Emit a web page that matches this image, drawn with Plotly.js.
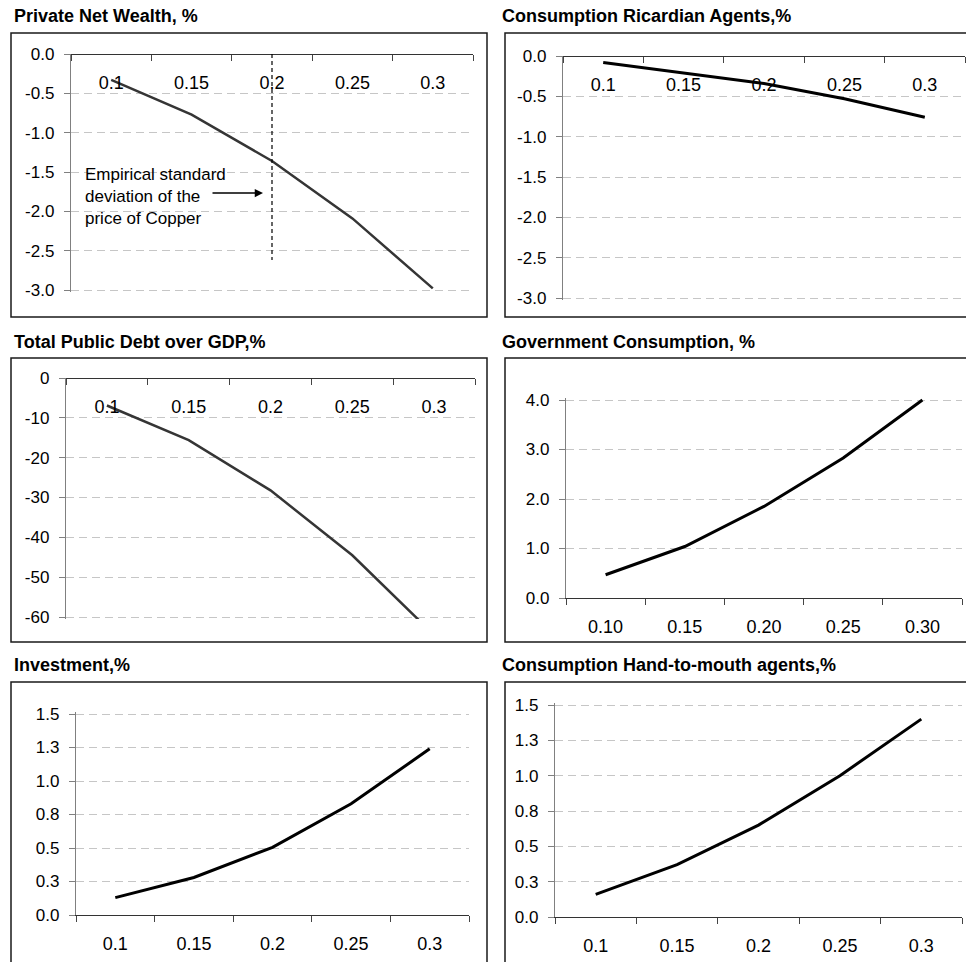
<!DOCTYPE html>
<html>
<head>
<meta charset="utf-8">
<script src="https://cdn.plot.ly/plotly-3.0.1.min.js"></script>
<style>
  html, body { margin: 0; padding: 0; background: #fff; }
  #chart { width: 966px; height: 962px; }
</style>
</head>
<body>
<div id="chart"></div>
<script>
// ---------------- data ----------------
const sigma = ["0.1", "0.15", "0.2", "0.25", "0.3"];
const sigmaGov = ["0.10", "0.15", "0.20", "0.25", "0.30"];

const privateNetWealth = [-0.33, -0.77, -1.36, -2.09, -2.98];
const consRicardian = [-0.08, -0.21, -0.34, -0.53, -0.76];
const publicDebt = [-6.9, -15.6, -28.2, -44.5, -64.5];
const govConsumption = [0.47, 1.04, 1.85, 2.83, 4.0];
const investment = [0.13, 0.28, 0.505, 0.83, 1.24];
const consHandToMouth = [0.16, 0.37, 0.65, 1.0, 1.40];

const titles = [
  "Private Net Wealth, %",
  "Consumption Ricardian Agents,%",
  "Total Public Debt over GDP,%",
  "Government Consumption, %",
  "Investment,%",
  "Consumption Hand-to-mouth agents,%"
];

const tickValsNeg3 = [0, -0.5, -1, -1.5, -2, -2.5, -3];
const tickTextNeg3 = ["0.0", "-0.5", "-1.0", "-1.5", "-2.0", "-2.5", "-3.0"];
const tickValsDebt = [0, -10, -20, -30, -40, -50, -60];
const tickTextDebt = ["0", "-10", "-20", "-30", "-40", "-50", "-60"];
const tickValsGov = [0, 1, 2, 3, 4];
const tickTextGov = ["0.0", "1.0", "2.0", "3.0", "4.0"];
const tickValsQ = [0, 0.25, 0.5, 0.75, 1, 1.25, 1.5];
const tickTextQ = ["0.0", "0.3", "0.5", "0.8", "1.0", "1.3", "1.5"];

const empiricalSigma = "0.2";
const empiricalLineBottom = -2.62;
const annotationText = "Empirical standard<br>deviation of the<br>price of Copper";

// ---------------- layout helpers ----------------
const W = 966, H = 962;
const px = p => p / W;
const py = p => 1 - p / H;
const FONT = "Liberation Sans, Arial, Helvetica, sans-serif";
const EDGE_PAD = 2; // px, so the gridline at the far end of the value axis is drawn

const panels = [
  { x: sigma,    y: privateNetWealth, xs: [71, 473],  ys: [54, 290],  range: [-3, 0],   tv: tickValsNeg3, tt: tickTextNeg3, top: true,  color: "#353535", w: 2.5, title: [12, 16],  box: [11, 33, 487, 317] },
  { x: sigma,    y: consRicardian,    xs: [563, 965], ys: [56, 298],  range: [-3, 0],   tv: tickValsNeg3, tt: tickTextNeg3, top: true,  color: "#000000", w: 3,   title: [500, 16], box: [505, 33, 975, 317] },
  { x: sigma,    y: publicDebt,       xs: [66, 475],  ys: [378, 617], range: [-60, 0],  tv: tickValsDebt, tt: tickTextDebt, top: true,  color: "#353535", w: 2.5, title: [12, 342], box: [11, 358, 487, 642] },
  { x: sigmaGov, y: govConsumption,   xs: [566, 962], ys: [400, 598], range: [0, 4],    tv: tickValsGov,  tt: tickTextGov,  top: false, color: "#000000", w: 3,   title: [500, 342], box: [505, 358, 975, 642] },
  { x: sigma,    y: investment,       xs: [76, 469],  ys: [714, 915], range: [0, 1.5],  tv: tickValsQ,    tt: tickTextQ,    top: false, color: "#000000", w: 3,   title: [12, 665], box: [11, 682, 487, 975] },
  { x: sigma,    y: consHandToMouth,  xs: [555, 962], ys: [705, 917], range: [0, 1.5],  tv: tickValsQ,    tt: tickTextQ,    top: false, color: "#000000", w: 3,   title: [500, 665], box: [505, 682, 975, 975] }
];

const data = [];
const layout = {
  width: W, height: H,
  margin: { l: 0, r: 0, t: 0, b: 0, pad: 0 },
  paper_bgcolor: "#ffffff",
  plot_bgcolor: "rgba(0,0,0,0)",
  showlegend: false,
  font: { family: FONT, color: "#000" },
  shapes: [],
  annotations: []
};

panels.forEach((p, i) => {
  const n = i + 1;
  const xa = "x" + n, ya = "y" + n;
  data.push({
    type: "scatter", mode: "lines",
    x: p.x, y: p.y,
    xaxis: xa, yaxis: ya,
    line: { color: p.color, width: p.w },
    hoverinfo: "skip"
  });
  // extend the far end of the value axis by a couple of pixels
  const upp = (p.range[1] - p.range[0]) / (p.ys[1] - p.ys[0]);
  let topPx = p.ys[0], botPx = p.ys[1], range = p.range.slice();
  if (p.top) { botPx += EDGE_PAD; range[0] -= EDGE_PAD * upp; }
  else { topPx -= EDGE_PAD; range[1] += EDGE_PAD * upp; }
  const yDom = [py(botPx), py(topPx)];
  const xAxis = {
    domain: [px(p.xs[0]), px(p.xs[1])],
    type: "category",
    range: [-0.5, 4.5],
    tickson: "boundaries",
    ticks: "outside", ticklen: 6, tickcolor: "#444", tickwidth: 1,
    showline: true, linecolor: "#333", linewidth: 1.2,
    showgrid: false, zeroline: false,
    tickfont: { family: FONT, size: 18, color: "#000" },
    ticklabelstandoff: 12,
    fixedrange: true
  };
  if (p.top) { xAxis.anchor = "free"; xAxis.position = yDom[1]; xAxis.side = "bottom"; }
  else { xAxis.anchor = ya; }
  layout["xaxis" + n] = xAxis;
  layout["yaxis" + n] = {
    domain: yDom,
    anchor: xa,
    range: range,
    tickmode: "array", tickvals: p.tv, ticktext: p.tt,
    ticks: "outside", ticklen: 6, tickcolor: "#808080", tickwidth: 1,
    showline: true, linecolor: "#808080", linewidth: 1.2,
    showgrid: true, gridcolor: "#c6c6c6", gridwidth: 1, griddash: "8px,5px",
    zeroline: false,
    tickfont: { family: FONT, size: 17, color: "#000" },
    ticklabelstandoff: 6,
    fixedrange: true
  };
  // chart-area border
  layout.shapes.push({
    type: "rect", xref: "paper", yref: "paper",
    x0: px(p.box[0]), x1: px(p.box[2]), y0: py(p.box[3]), y1: py(p.box[1]),
    line: { color: "#1a1a1a", width: 1.5 }, fillcolor: "rgba(0,0,0,0)", layer: "below"
  });
  // panel title
  layout.annotations.push({
    text: "<b>" + titles[i] + "</b>",
    xref: "paper", yref: "paper",
    x: px(p.title[0]), y: py(p.title[1]),
    xanchor: "left", yanchor: "middle",
    showarrow: false,
    font: { family: FONT, size: 18, color: "#000" }
  });
});

// vertical dashed line at the empirical std of copper price (panel 1)
layout.shapes.push({
  type: "line", xref: "x1", yref: "y1",
  x0: sigma.indexOf(empiricalSigma), x1: sigma.indexOf(empiricalSigma),
  y0: 0, y1: empiricalLineBottom,
  line: { color: "#000", width: 1.2, dash: "4px,3px" }
});

// annotation text
layout.annotations.push({
  text: annotationText,
  xref: "paper", yref: "paper",
  x: px(83), y: py(197),
  xanchor: "left", yanchor: "middle", align: "left",
  showarrow: false,
  font: { family: FONT, size: 17, color: "#000" }
});
// arrow
layout.annotations.push({
  text: "",
  xref: "paper", yref: "paper",
  x: px(263), y: py(193),
  ax: -52, ay: 0,
  showarrow: true, arrowhead: 2, arrowsize: 1.1, arrowwidth: 1.5, arrowcolor: "#000",
  standoff: 0, startstandoff: 0
});

Plotly.newPlot("chart", data, layout, { staticPlot: true, displayModeBar: false });
</script>
</body>
</html>
